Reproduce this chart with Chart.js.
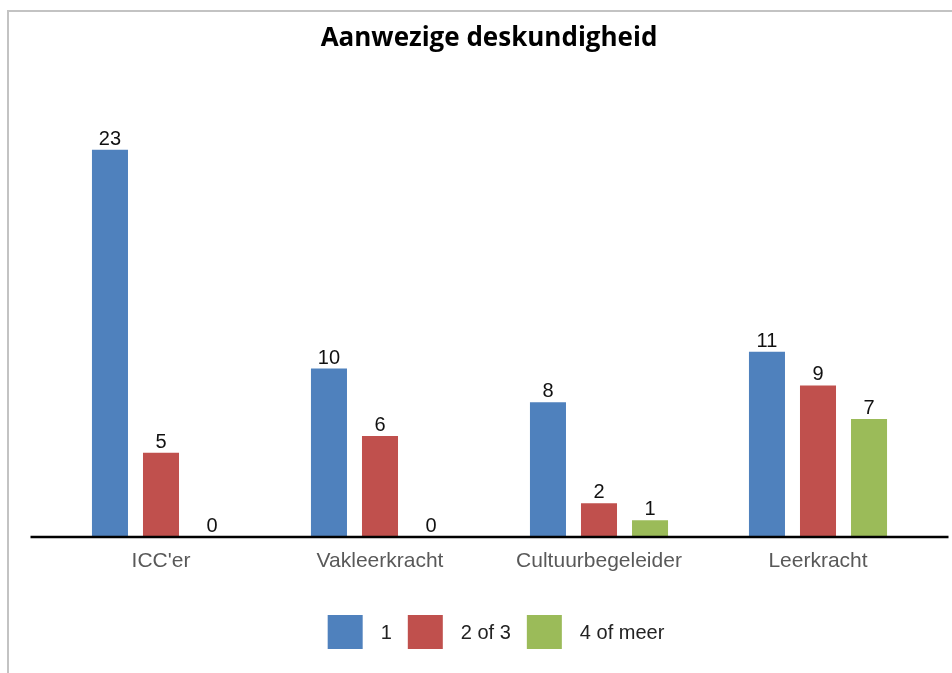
<!DOCTYPE html>
<html>
<head>
<meta charset="utf-8">
<script src="https://cdn.jsdelivr.net/npm/chart.js@4.4.1/dist/chart.umd.min.js"></script>
<style>
  html, body { margin: 0; padding: 0; background: #fff; }
  #wrap { position: relative; width: 952px; height: 673px; }
  #frame { position: absolute; left: 7px; top: 10px; width: 960px; height: 700px;
           border-top: 2px solid #c3c3c3; border-left: 2px solid #c3c3c3; pointer-events: none; }
  canvas { position: absolute; left: 0; top: 0; }
</style>
</head>
<body>
<div id="wrap">
  <canvas id="c" width="952" height="673"></canvas>
  <div id="frame"></div>
</div>
<script>
const titleText = "Aanwezige deskundigheid";
const categories = ["ICC'er", "Vakleerkracht", "Cultuurbegeleider", "Leerkracht"];
const seriesNames = ["1", "2 of 3", "4 of meer"];
const series1 = [23, 10, 8, 11];
const series2 = [5, 6, 2, 9];
const series3 = [0, 0, 1, 7];
const seriesColors = ["#4F81BD", "#C0504D", "#9BBB59"];

const FONT = "'Liberation Sans', Arial, sans-serif";

const decorPlugin = {
  id: 'decor',
  afterDatasetsDraw(chart) {
    const ctx = chart.ctx;
    const y = chart.scales.y;
    const ca = chart.chartArea;
    // baseline axis
    ctx.save();
    ctx.strokeStyle = '#000';
    ctx.lineWidth = 2.5;
    ctx.beginPath();
    const y0 = y.getPixelForValue(0);
    ctx.moveTo(ca.left - 21, y0);
    ctx.lineTo(ca.right + 21, y0);
    ctx.stroke();
    // value labels
    ctx.fillStyle = '#111';
    ctx.font = "20px " + FONT;
    ctx.textAlign = 'center';
    ctx.textBaseline = 'alphabetic';
    chart.data.datasets.forEach((ds, i) => {
      const meta = chart.getDatasetMeta(i);
      meta.data.forEach((bar, j) => {
        ctx.fillText(String(ds.data[j]), bar.x, bar.y - 5);
      });
    });
    // title
    ctx.fillStyle = '#000';
    ctx.font = "bold 26px 'Open Sans', sans-serif";
    ctx.fillText(titleText, 489, 46);
    // legend
    ctx.font = "20px " + FONT;
    const box = 35, boxH = 34, gapText = 18, gapItem = 16;
    let total = 0;
    const widths = chart.data.datasets.map(ds => ctx.measureText(ds.label).width);
    widths.forEach((w, i) => { total += box + gapText + w + (i < widths.length - 1 ? gapItem : 0); });
    let x = 496 - total / 2;
    const cy = 632;
    ctx.textAlign = 'left';
    ctx.textBaseline = 'middle';
    chart.data.datasets.forEach((ds, i) => {
      ctx.fillStyle = ds.backgroundColor;
      ctx.fillRect(x, cy - boxH / 2, box, boxH);
      x += box + gapText;
      ctx.fillStyle = '#222';
      ctx.fillText(ds.label, x, cy + 1);
      x += widths[i] + gapItem;
    });
    ctx.restore();
  }
};

new Chart(document.getElementById('c'), {
  type: 'bar',
  data: {
    labels: categories,
    datasets: [
      { label: seriesNames[0], data: series1, backgroundColor: seriesColors[0] },
      { label: seriesNames[1], data: series2, backgroundColor: seriesColors[1] },
      { label: seriesNames[2], data: series3, backgroundColor: seriesColors[2] }
    ]
  },
  options: {
    responsive: false,
    animation: false,
    devicePixelRatio: 1,
    layout: { padding: { left: 51.5, right: 24.5, top: 116, bottom: 0 } },
    datasets: { bar: { categoryPercentage: 0.699, barPercentage: 0.706 } },
    plugins: { legend: { display: false }, title: { display: false }, tooltip: { enabled: false } },
    scales: {
      x: {
        grid: { display: false },
        border: { display: false },
        ticks: { color: '#595959', font: { family: FONT, size: 21 }, padding: 4 },
        afterFit(s) { s.height = 136; }
      },
      y: { display: false, min: 0, max: 25 }
    }
  },
  plugins: [decorPlugin]
});
</script>
</body>
</html>
